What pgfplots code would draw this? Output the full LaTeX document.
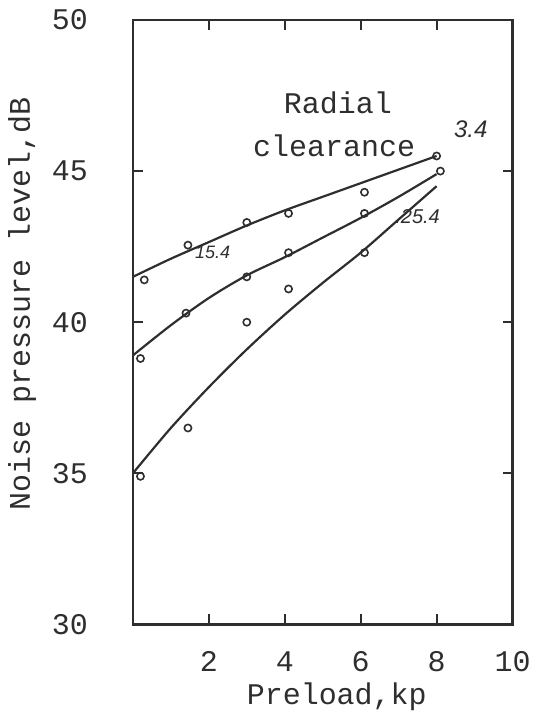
\documentclass[border=0pt]{standalone}
\usepackage{fontspec}
\setmainfont{Liberation Mono}
\newfontfamily\hand{Liberation Sans}
\usepackage{pgfplots}
\pgfplotsset{compat=1.18}
\definecolor{ink}{HTML}{2E2E2E}
\begin{document}
\begin{tikzpicture}
\begin{axis}[
  name=ax,
  scale only axis,
  width=190pt, height=302.5pt,
  xmin=0, xmax=10, ymin=30, ymax=50,
  xtick={2,4,6,8,10}, ytick={30,35,40,45,50},
  xticklabels={2,4,6,8,10},
  tick align=inside,
  major tick length=5pt,
  axis line style={ink, line width=1.3pt},
  every tick/.style={ink, line width=1pt},
  /pgf/number format/assume math mode=true,
  tick label style={font=\fontsize{15}{18}\selectfont, text=ink},
  yticklabel style={xshift=-19pt},
  xticklabel style={yshift=-10pt},
  label style={font=\fontsize{15}{18}\selectfont, text=ink},
  xlabel={Preload,kp},
  ylabel={Noise pressure level,dB},
  xlabel style={at={(axis description cs:0.537,0)}, anchor=center, yshift=-36pt},
  ylabel style={at={(axis description cs:-0.292,0.53)}, anchor=center, rotate=0},
  clip=false,
]
% fitted curves
\addplot[ink, line width=1.1pt, smooth] coordinates {
 (0,41.5) (1,42.1) (2,42.65) (3,43.2) (4,43.7) (5,44.15) (6,44.6) (7,45.05) (8,45.5)};
\addplot[ink, line width=1.1pt, smooth] coordinates {
 (0,38.9) (1,39.9) (2,40.8) (3,41.55) (4,42.15) (5,42.8) (6,43.45) (7,44.15) (8,44.9)};
\addplot[ink, line width=1.1pt, smooth] coordinates {
 (0,35.0) (1,36.5) (2,37.85) (3,39.1) (4,40.25) (5,41.3) (6,42.3) (7,43.4) (8,44.5)};
% measured points
\addplot[only marks, mark=o, mark size=1.8pt, mark options={ink, line width=0.8pt}] coordinates {
 (0.3,41.4) (1.45,42.55) (3.0,43.3) (4.1,43.6) (6.1,44.3) (8.0,45.5)};
\addplot[only marks, mark=o, mark size=1.8pt, mark options={ink, line width=0.8pt}] coordinates {
 (0.2,38.8) (1.4,40.3) (3.0,41.5) (4.1,42.3) (6.1,43.6) (8.1,45.0)};
\addplot[only marks, mark=o, mark size=1.8pt, mark options={ink, line width=0.8pt}] coordinates {
 (0.2,34.9) (1.45,36.5) (3.0,40.0) (4.1,41.1) (6.1,42.3)};
% annotations
\node[text=ink, font=\fontsize{15}{18}\selectfont] at (axis cs:5.4,47.25) {Radial};
\node[text=ink, font=\fontsize{15}{18}\selectfont] at (axis cs:5.3,45.85) {clearance};
\node[text=ink, font=\hand\itshape\fontsize{12}{14}\selectfont] at (axis cs:8.9,46.4) {3.4};
\node[text=ink, font=\hand\itshape\fontsize{9}{11}\selectfont] at (axis cs:2.1,42.3) {15.4};
\node[text=ink, font=\hand\itshape\fontsize{10}{12}\selectfont] at (axis cs:7.5,43.5) {.25.4};
\end{axis}
\path ([shift={(-66.5pt,-46pt)}]ax.south west) rectangle ([shift={(11pt,10pt)}]ax.north east);
\end{tikzpicture}
\end{document}
